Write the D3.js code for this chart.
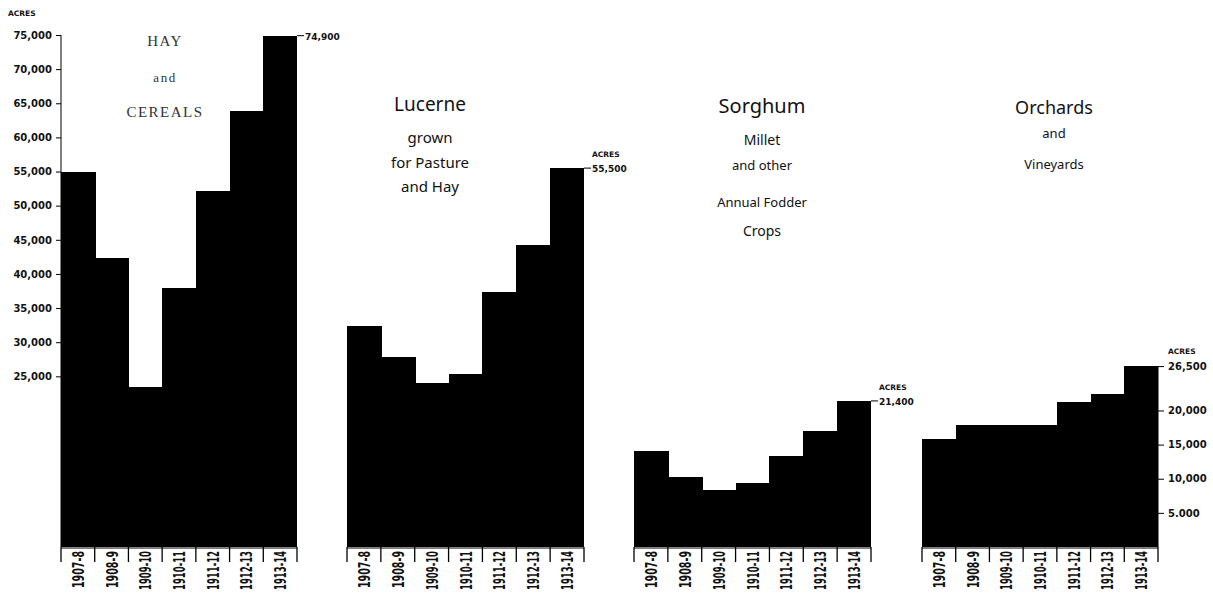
<!DOCTYPE html>
<html lang="en">
<head>
<meta charset="UTF-8">
<title>Acreage under crops 1907-8 to 1913-14</title>
<script src="https://d3js.org/d3.v7.min.js"></script>
<style>
    body { margin: 0; background: #fff; }
    svg { display: block; }
    .num { font-family: "DejaVu Sans", sans-serif; font-weight: bold; font-size: 10px; fill: #111; }
    .acres { font-family: "DejaVu Sans", sans-serif; font-weight: bold; font-size: 7.5px; fill: #111; }
    .yr { font-family: "DejaVu Sans Condensed", "DejaVu Sans", sans-serif; font-size: 15px; font-weight: bold; fill: #111; }
    .serif { font-family: "Liberation Serif", "DejaVu Serif", serif; fill: #333; letter-spacing: 1.5px; }
    .hand { font-family: "Noto Sans", "DejaVu Sans", sans-serif; fill: #111; }
</style>
</head>
<body>
<div id="chart"></div>
<script>
    // season labels (same for every group)
    var years = ["1907-8", "1908-9", "1909-10", "1910-11", "1911-12", "1912-13", "1913-14"];

    // acres
    var hayCereals = [55000, 42400, 23500, 37900, 52200, 63800, 74900];
    var lucerne    = [32300, 27800, 24000, 25400, 37400, 44300, 55500];
    var sorghum    = [14000, 10200, 8300, 9400, 13300, 17000, 21400];
    var orchards   = [15800, 17900, 17800, 17800, 21200, 22400, 26500];

    // axis ticks
    var leftTicks = [25000, 30000, 35000, 40000, 45000, 50000, 55000, 60000, 65000, 70000, 75000];
    var rightTicks = [5000, 10000, 15000, 20000, 26500];
    var rightTickLabels = ["5.000", "10,000", "15,000", "20,000", "26,500"];

    var width = 1213, height = 594;

    var svg = d3.select("#chart").append("svg")
        .attr("width", width)
        .attr("height", height);

    // one acreage scale shared by all four groups
    var y = d3.scaleLinear().domain([0, 75000]).range([547, 35]);
    var fmt = d3.format(",");

    var groups = [
        { values: hayCereals, x0: 61,  x1: 297,
          title: [["HAY", 46, 15], ["and", 82, 13], ["CEREALS", 117, 15]], cx: 165, cls: "serif" },
        { values: lucerne,    x0: 347, x1: 584,
          title: [["Lucerne", 111, 19], ["grown", 143, 15], ["for Pasture", 168, 15], ["and Hay", 192, 15]], cx: 430, cls: "hand" },
        { values: sorghum,    x0: 634, x1: 871,
          title: [["Sorghum", 113, 20], ["Millet", 145, 14], ["and other", 170, 13], ["Annual Fodder", 207, 13], ["Crops", 236, 14]], cx: 762, cls: "hand" },
        { values: orchards,   x0: 922, x1: 1158,
          title: [["Orchards", 114, 18], ["and", 138, 13], ["Vineyards", 169, 13]], cx: 1054, cls: "hand" }
    ];

    groups.forEach(function(g, gi) {
        var x = d3.scaleBand().domain(years).range([g.x0, g.x1]).padding(0);
        var data = years.map(function(d, i) { return { year: d, value: g.values[i] }; });

        // bars
        svg.append("g").selectAll("rect")
            .data(data)
            .enter().append("rect")
            .attr("x", function(d) { return x(d.year); })
            .attr("y", function(d) { return y(d.value); })
            .attr("width", function(d, i) { return x.bandwidth() + (i < years.length - 1 ? 1 : 0); })
            .attr("height", function(d) { return y(0) - y(d.value); })
            .attr("fill", "#000")
            .attr("shape-rendering", "crispEdges");

        // label boxes under the bars
        var xa = svg.append("g");
        xa.append("line")
            .attr("x1", g.x0).attr("x2", g.x1)
            .attr("y1", y(0) + 1).attr("y2", y(0) + 1)
            .attr("stroke", "#000").attr("stroke-width", 1);
        xa.selectAll("line.sep")
            .data(years.concat(["end"]))
            .enter().append("line")
            .attr("class", "sep")
            .attr("x1", function(d, i) { return i < years.length ? x(d) : g.x1; })
            .attr("x2", function(d, i) { return i < years.length ? x(d) : g.x1; })
            .attr("y1", y(0)).attr("y2", y(0) + 15)
            .attr("stroke", "#000").attr("stroke-width", 1.3);
        xa.selectAll("text")
            .data(years)
            .enter().append("text")
            .attr("class", "yr")
            .attr("transform", function(d) {
                return "translate(" + (x(d) + x.bandwidth() / 2 + 6) + "," + (y(0) + 4) + ") rotate(-90)";
            })
            .attr("text-anchor", "end")
            .attr("textLength", function(d) { return d.length > 6 ? 39 : 37; })
            .attr("lengthAdjust", "spacingAndGlyphs")
            .text(function(d) { return d; });

        // title
        svg.append("g").selectAll("text")
            .data(g.title)
            .enter().append("text")
            .attr("class", g.cls)
            .attr("x", g.cx)
            .attr("y", function(d) { return d[1]; })
            .attr("text-anchor", "middle")
            .style("font-size", function(d) { return d[2] + "px"; })
            .text(function(d) { return d[0]; });

        // leader line + value for last season
        var last = data[data.length - 1];
        if (gi < 3) {
            svg.append("line")
                .attr("x1", g.x1).attr("x2", g.x1 + 7)
                .attr("y1", y(last.value)).attr("y2", y(last.value))
                .attr("stroke", "#000").attr("stroke-width", 1);
            if (gi > 0) {
                svg.append("text").attr("class", "acres")
                    .attr("x", g.x1 + 8).attr("y", y(last.value) - 11)
                    .text("ACRES");
            }
            svg.append("text").attr("class", "num")
                .attr("x", g.x1 + 8).attr("y", y(last.value) + 4)
                .style("font-size", "9px")
                .text(fmt(last.value));
        }
    });

    // left axis
    var left = svg.append("g").attr("transform", "translate(61,0)");
    left.call(d3.axisLeft(y).tickValues(leftTicks).tickFormat(fmt).tickSize(5).tickPadding(4));
    left.select(".domain").attr("d", "M0," + y(75000) + "V" + y(0)).attr("stroke-width", 1);
    left.selectAll(".tick text").attr("class", "num").attr("font-family", null).attr("font-size", null);
    svg.append("text").attr("class", "acres").attr("x", 8).attr("y", 16).text("ACRES");

    // right axis on the orchards group
    var right = svg.append("g").attr("transform", "translate(1158,0)");
    right.call(d3.axisRight(y).tickValues(rightTicks)
        .tickFormat(function(d, i) { return rightTickLabels[i]; })
        .tickSize(6).tickPadding(4));
    right.select(".domain").attr("d", "M0," + y(26500) + "V" + y(0)).attr("stroke-width", 1);
    right.selectAll(".tick text").attr("class", "num").attr("font-family", null).attr("font-size", null);
    svg.append("text").attr("class", "acres").attr("x", 1168).attr("y", y(26500) - 12).text("ACRES");
</script>
</body>
</html>
